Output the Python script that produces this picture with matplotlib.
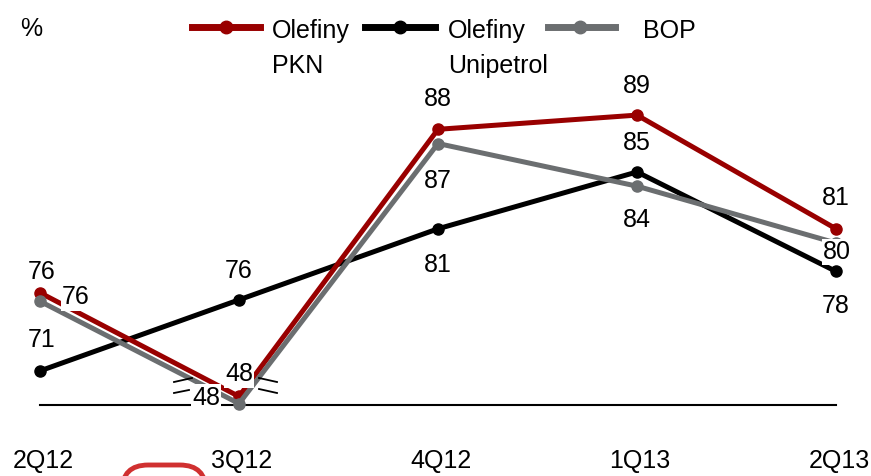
import matplotlib
matplotlib.use("Agg")
import matplotlib.pyplot as plt
from matplotlib.lines import Line2D
from matplotlib.patches import FancyBboxPatch
from matplotlib import transforms as mtrans

plt.rcParams['font.family'] = ['Liberation Sans Narrow', 'Liberation Sans', 'DejaVu Sans']

# ---- data ----
categories = ["2Q12", "3Q12", "4Q12", "1Q13", "2Q13"]
olefiny_pkn = [76.5, 48.4, 88, 89, 81]
olefiny_unipetrol = [71, 76, 81, 85, 78]
bop = [75.9, 47.9, 87, 84, 80]
series_names = ["Olefiny\nPKN", "Olefiny\nUnipetrol", "BOP"]

# broken axis: values below BREAK are shifted up
BREAK = 60
BREAK_SHIFT = 20.8


def disp(v):
    return v + BREAK_SHIFT if v < BREAK else v


FS = 18
W, H = 871, 476
fig = plt.figure(figsize=(W / 100, H / 100), dpi=100)
ax = fig.add_axes([40 / W, (H - 405) / H, 796 / W, 405 / H])
ax.set_xlim(0, 4)
ax.set_ylim(68.6, 97.1)
for s in ["top", "left", "right"]:
    ax.spines[s].set_visible(False)
ax.spines["bottom"].set_linewidth(1.5)
ax.spines["bottom"].set_zorder(1)
ax.set_yticks([])
ax.set_xticks(range(len(categories)))
ax.set_xticklabels(categories, fontsize=FS)
ax.tick_params(axis="x", length=0, pad=32)
for lab in ax.get_xticklabels():
    lab.set_transform(lab.get_transform() + mtrans.ScaledTranslation(3 / 100, 0, fig.dpi_scale_trans))

RED = "#990000"
BLACK = "#000000"
GRAY = "#6b6e70"
x = list(range(len(categories)))

series = [
    (olefiny_unipetrol, BLACK, 3),
    (olefiny_pkn, RED, 4),
    (bop, GRAY, 5),
]
for vals, col, z in series:
    ax.plot(x, [disp(v) for v in vals], color=col, lw=3.6, marker="o", ms=8,
            zorder=z, clip_on=False, solid_capstyle="round")

# label offsets in pixels (dx, dy with y up)
pkn_off = [(2, 21), (0, 22), (0, 30), (0, 29), (0, 31)]
uni_off = [(2, 31), (0, 29), (0, -36), (0, 29), (0, -35)]
bop_off = [(36, 4), (-33, 6), (0, -37), (0, -34), (1, -9)]

for vals, offs in [(olefiny_pkn, pkn_off), (olefiny_unipetrol, uni_off), (bop, bop_off)]:
    for i, (v, (dx, dy)) in enumerate(zip(vals, offs)):
        ax.annotate(f"{v:.0f}", (i, disp(v)), xytext=(dx * 0.72, dy * 0.72),
                    textcoords="offset points", ha="center", va="center",
                    fontsize=FS, zorder=10, annotation_clip=False,
                    bbox=dict(boxstyle="square,pad=0.05", fc="white", ec="none"))

# axis-break marks around 3Q12 (pixel offsets from baseline at category 1)
base = (1, 68.6)
break_marks = [((-65, 23), (-47, 27)), ((20, 27), (38, 23)),
               ((-65, 12), (-50, 15)), ((20, 16), (38, 12))]
bx, by = ax.transData.transform(base)
for (x0, y0), (x1, y1) in break_marks:
    fig.add_artist(Line2D([(bx + x0) / W, (bx + x1) / W], [(by + y0) / H, (by + y1) / H],
                          transform=fig.transFigure, color="black", lw=1.3, zorder=11))

# "%" label
fig.text(20 / W, 1 - 29 / H, "%", fontsize=FS, ha="left", va="center")

# legend (manual)
leg_items = [
    (series_names[0], RED, 192, 260, 226, 272),
    (series_names[1], BLACK, 365, 435, 400, 448),
    (series_names[2], GRAY, 548, 615, 580, 643),
]
for name, col, x0, x1, xm, xt in leg_items:
    yl = 1 - 27 / H
    fig.add_artist(Line2D([x0 / W, x1 / W], [yl, yl], transform=fig.transFigure,
                          color=col, lw=5))
    fig.add_artist(Line2D([xm / W], [yl], transform=fig.transFigure,
                          color=col, marker="o", ms=9, lw=0))
    for k, line in enumerate(name.split("\n")):
        fig.text(xt / W, 1 - (38 + 35 * k) / H, line, fontsize=FS,
                 ha="left", va="baseline")

# partial logo frame at bottom
logo = FancyBboxPatch((122 / W, -40 / H), 84 / W, 51 / H,
                      boxstyle="round,pad=0,rounding_size=0.03",
                      transform=fig.transFigure, fc="white", ec="#d03030", lw=3.5,
                      mutation_aspect=W / H)
fig.add_artist(logo)

fig.savefig("out.png", dpi=100)
